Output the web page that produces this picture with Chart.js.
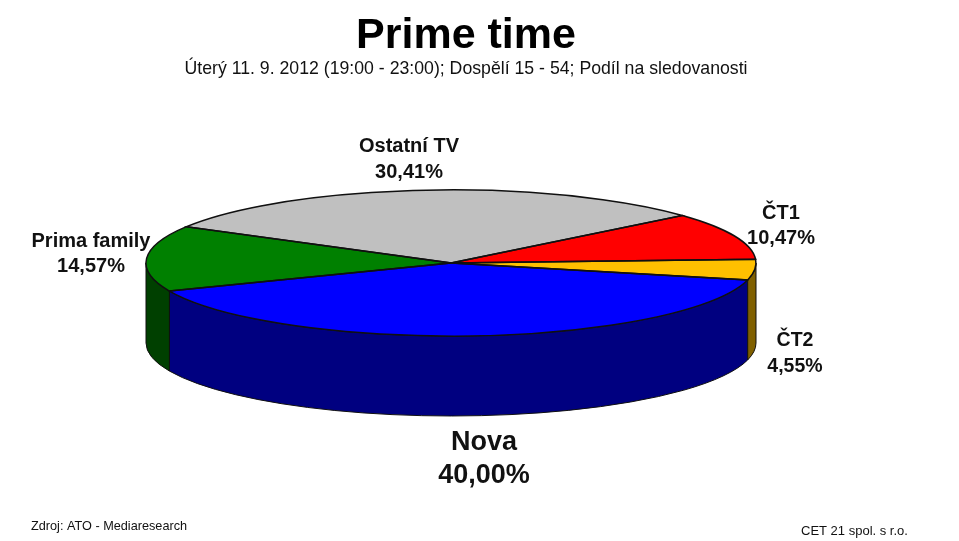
<!DOCTYPE html>
<html>
<head>
<meta charset="utf-8">
<title>Prime time</title>
<script src="https://cdn.jsdelivr.net/npm/chart.js@4"></script>
<style>
  html, body { margin: 0; padding: 0; background: #fff; overflow: hidden; }
  #wrap { width: 959px; height: 541px; }
</style>
</head>
<body>
<div id="wrap"><canvas id="pie"></canvas></div>
<script>
// data
const categories = ['Nova', 'Prima family', 'Ostatní TV', 'ČT1', 'ČT2'];
const shares = [40.00, 14.57, 30.41, 10.47, 4.55];
const topColors = ['#0000ff', '#008000', '#c0c0c0', '#ff0000', '#ffc000'];
const wallColors = ['#000080', '#004000', '#606060', '#800000', '#806000'];

// label placement, same order as categories: centre x, name y, value y, font
const labelSpots = [
  [484, 443, 476, 'bold 27px "Liberation Sans"'],
  [91, 241, 266, 'bold 20px "Liberation Sans"'],
  [409, 146, 172, 'bold 20px "Liberation Sans"'],
  [781, 213, 238, 'bold 20px "Liberation Sans"'],
  [795, 341, 367, 'bold 19.5px "Liberation Sans"']
];

// where the flattened pie sits on the page
const PIE_X = 451, PIE_Y = 263, PIE_RX = 305, PIE_RY = 73, PIE_DEPTH = 80;

function tracePieSlice(ctx, el, rx, ry) {
  ctx.beginPath();
  ctx.moveTo(PIE_X, PIE_Y);
  ctx.ellipse(PIE_X, PIE_Y, rx, ry, 0, el.startAngle, el.endAngle);
  ctx.closePath();
}

// the pie is laid on its side and gets a wall under the front half
const flatPie = {
  id: 'flatPie',
  beforeDatasetsDraw(chart) {
    const ctx = chart.ctx;
    const arcs = chart.getDatasetMeta(0).data;

    arcs.forEach((el, i) => {
      // only the part of a slice between 0 and PI faces the viewer
      const ranges = [[el.startAngle, el.endAngle], [el.startAngle - 2 * Math.PI, el.endAngle - 2 * Math.PI]];
      ranges.forEach(r => {
        const a = Math.max(r[0], 0), b = Math.min(r[1], Math.PI);
        if (b <= a) return;
        ctx.beginPath();
        ctx.ellipse(PIE_X, PIE_Y, PIE_RX, PIE_RY, 0, a, b);
        ctx.ellipse(PIE_X, PIE_Y + PIE_DEPTH, PIE_RX, PIE_RY, 0, b, a, true);
        ctx.closePath();
        ctx.fillStyle = wallColors[i];
        ctx.fill();
        ctx.strokeStyle = '#101010';
        ctx.lineWidth = 1;
        ctx.stroke();
      });
    });

    const el = arcs[0];
    const r = el.outerRadius;
    ctx.save();
    ctx.translate(PIE_X, PIE_Y);
    ctx.scale(PIE_RX / r, PIE_RY / r);
    ctx.translate(-el.x, -el.y);
  },
  afterDatasetsDraw(chart) {
    const ctx = chart.ctx;
    ctx.restore();

    // outlines go on after the transform is gone, so they keep their width
    ctx.strokeStyle = '#101010';
    ctx.lineWidth = 1.5;
    chart.getDatasetMeta(0).data.forEach(el => {
      tracePieSlice(ctx, el, PIE_RX, PIE_RY);
      ctx.stroke();
    });
  },
  afterDraw(chart) {
    const ctx = chart.ctx;
    ctx.save();
    ctx.fillStyle = '#111';
    ctx.textAlign = 'center';
    ctx.textBaseline = 'middle';
    categories.forEach((name, i) => {
      const s = labelSpots[i];
      ctx.font = s[3];
      ctx.fillText(name, s[0], s[1]);
      ctx.fillText(shares[i].toFixed(2).replace('.', ',') + '%', s[0], s[2]);
    });

    ctx.font = '12.7px "Liberation Sans"';
    ctx.textAlign = 'left';
    ctx.fillText('Zdroj: ATO - Mediaresearch', 31, 526);
    ctx.font = '13px "Liberation Sans"';
    ctx.fillText('CET 21 spol. s r.o.', 801, 531);
    ctx.restore();
  }
};

new Chart(document.getElementById('pie'), {
  type: 'pie',
  data: {
    labels: categories,
    datasets: [{
      data: shares,
      backgroundColor: topColors,
      borderWidth: 0,
      clip: false
    }]
  },
  options: {
    responsive: true,
    maintainAspectRatio: false,
    animation: false,
    rotation: 103.4,
    layout: { padding: { top: 10, right: 27 } },
    plugins: {
      legend: { display: false },
      tooltip: { enabled: false },
      title: {
        display: true,
        text: 'Prime time',
        color: '#000',
        font: { family: '"Liberation Sans"', size: 43, weight: 'bold' },
        padding: { top: 0, bottom: -3 }
      },
      subtitle: {
        display: true,
        text: 'Úterý 11. 9. 2012 (19:00 - 23:00); Dospělí 15 - 54; Podíl na sledovanosti',
        color: '#111',
        font: { family: '"Liberation Sans"', size: 17.7 },
        padding: 0
      }
    }
  },
  plugins: [flatPie]
});
</script>
</body>
</html>
